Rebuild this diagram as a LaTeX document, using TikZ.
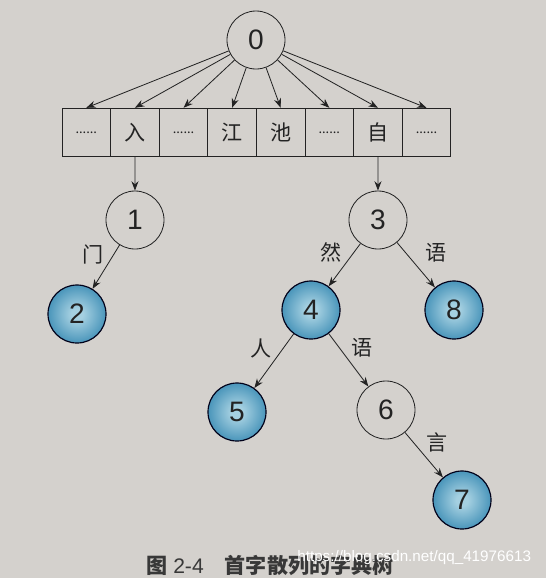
\documentclass[tikz,border=0pt]{standalone}
\usepackage{fontspec}
\setmainfont{Liberation Sans}
\newfontfamily\cjk{Noto Sans CJK SC}
\usetikzlibrary{arrows.meta}
\definecolor{paper}{RGB}{212,209,205}
\definecolor{ink}{RGB}{35,35,35}
\definecolor{dotin}{RGB}{165,208,225}
\definecolor{dotmid}{RGB}{78,152,188}
\definecolor{dotout}{RGB}{36,112,152}
\pgfdeclareradialshading{bluedot}{\pgfpointorigin}{color(0bp)=(dotin); color(5bp)=(dotin); color(24bp)=(dotmid); color(50bp)=(dotout)}
\newcommand\dd{\fontsize{11}{11}\selectfont......}

\begin{document}
\begin{tikzpicture}[x=0.03cm, y=-0.03cm, line width=0.7pt, color=ink,
    >={Stealth[length=8pt,width=6pt]},
    vtx/.style={circle, draw, minimum size=1.74cm, inner sep=0pt, font=\fontsize{24}{24}\selectfont},
    leaf/.style={vtx, shading=bluedot, draw=black!90!blue, line width=1pt},
    cell/.style={draw, minimum size=1.458cm, inner sep=0pt, font=\cjk\fontsize{18}{18}\selectfont},
    lbl/.style={font=\cjk\fontsize{18}{18}\selectfont, inner sep=2pt}]
    \useasboundingbox (0,0) rectangle (546,578);
    \fill[paper] (0,0) rectangle (546,578);

    \node[vtx] (n0) at (256,40) {0};
    \foreach \t [count=\i] in {\dd,入,\dd,江,池,\dd,自,\dd}
        \node[cell] (c\i) at ({62+48.6*(\i-0.5)},132.5) {\t};
    \foreach \i in {1,...,8}
        \draw[->] (n0) -- (c\i.north);

    \node[vtx] (n1) at (135,220) {1};
    \node[vtx] (n3) at (378,220) {3};
    \node[leaf] (n2) at (77,314) {2};
    \node[leaf] (n4) at (311,310) {4};
    \node[leaf] (n8) at (454,310) {8};
    \node[leaf] (n5) at (237,412) {5};
    \node[vtx] (n6) at (386,410) {6};
    \node[leaf] (n7) at (462,500) {7};

    \draw[->] (c2) -- (n1);
    \draw[->] (c7) -- (n3);
    \draw[->] (n1) -- node[lbl, above left] {门} (n2);
    \draw[->] (n3) -- node[lbl, above left] {然} (n4);
    \draw[->] (n3) -- node[lbl, above right, xshift=6pt] {语} (n8);
    \draw[->] (n4) -- node[lbl, above left] {人} (n5);
    \draw[->] (n4) -- node[lbl, above right] {语} (n6);
    \draw[->] (n6) -- node[lbl, above right] {言} (n7);

    \node[anchor=west, color=black!78, font=\fontsize{18}{18}\selectfont] (cap) at (142,565)
        {{\cjk\bfseries 图} 2-4\quad{\cjk\bfseries 首字散列的字典树}};
    \node[anchor=west, text=white, font=\fontsize{13}{13}\selectfont] (wm) at (293,558) {https://blog.csdn.net/qq\_41976613};
\end{tikzpicture}
\end{document}
